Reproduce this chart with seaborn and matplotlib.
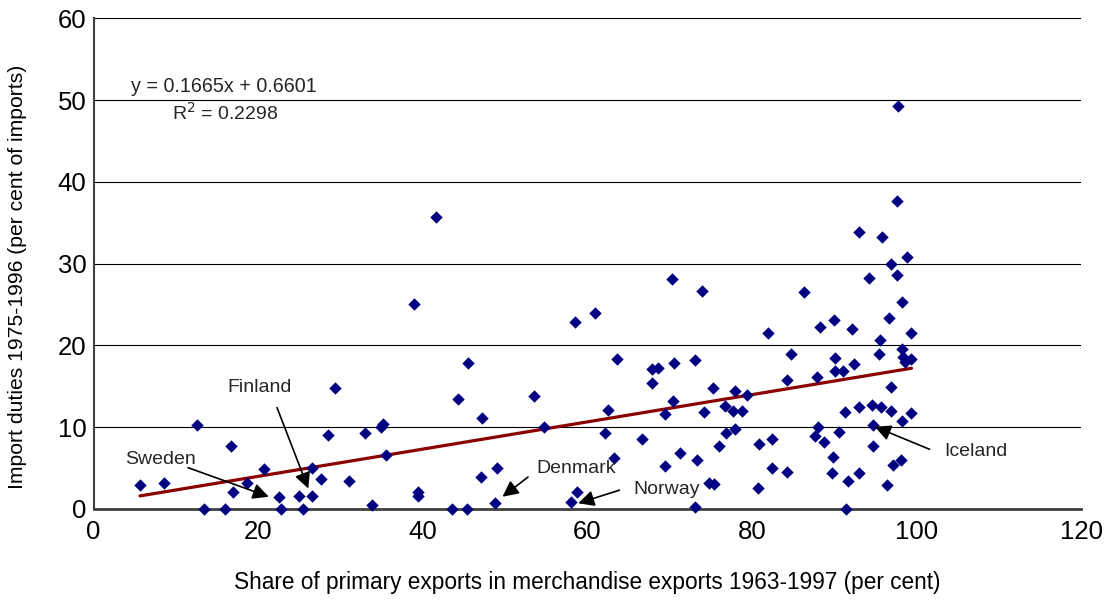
import matplotlib
matplotlib.use("Agg")
import matplotlib.pyplot as plt
import seaborn as sns
import numpy as np
import pandas as pd

# ---- data ----
x_share = [5.65, 8.57, 12.6, 13.4, 16.0, 16.67, 16.9, 18.6, 20.7, 22.5, 22.8, 24.97, 25.5,
           26.5, 26.5, 27.6, 28.5, 29.4, 31.0, 33.0, 33.8, 34.9, 35.2, 35.5, 38.9, 39.4, 39.4,
           41.6, 43.6, 44.25, 45.4, 45.5, 47.1, 47.2, 48.8, 49.0, 53.5, 54.8, 58.0, 58.5, 58.7,
           60.9, 62.1, 62.5, 63.2, 63.6, 66.6,
           67.9, 68.6, 67.9, 69.4, 69.4, 70.3, 70.6, 70.4, 71.3, 73.1, 73.1, 73.3, 73.9, 74.2,
           74.8, 75.4, 75.3, 76.0, 76.7, 76.9, 77.7, 77.9, 77.9, 78.8, 79.4, 80.7, 80.9, 82.0,
           82.5, 82.5, 84.3, 84.3, 84.7, 86.3, 87.7, 87.9, 88.1, 88.3, 88.8, 89.7, 89.9, 90.0,
           90.1, 90.1, 90.6, 91.1, 91.3, 91.5, 91.7, 92.2, 92.4, 93.05, 93.05, 93.05, 94.2,
           94.6, 94.7, 94.75, 95.4, 95.6, 95.7, 95.8, 96.45, 96.7, 96.9, 96.9, 96.9, 97.2,
           97.6, 97.6, 97.8, 98.1, 98.2, 98.2, 98.2, 98.4, 98.6, 98.9, 99.4, 99.4, 99.4]
y_duties = [2.93, 3.2, 10.25, 0.0, 0.0, 7.7, 2.1, 3.2, 4.9, 1.5, 0.0, 1.63, 0.0,
            1.63, 5.0, 3.65, 9.05, 14.75, 3.45, 9.33, 0.55, 10.05, 10.35, 6.6, 25.1, 2.1, 1.6,
            35.7, 0.0, 13.4, 0.0, 17.9, 3.95, 11.1, 0.77, 5.05, 13.85, 10.0, 0.9, 22.9, 2.1,
            24.0, 9.3, 12.1, 6.2, 18.4, 8.6,
            17.1, 17.25, 15.4, 11.6, 5.26, 28.1, 17.9, 13.2, 6.9, 18.2, 0.3, 6.0, 26.7, 11.8,
            3.2, 3.0, 14.8, 7.7, 12.6, 9.3, 12.0, 9.8, 14.4, 12.0, 13.9, 2.6, 8.0, 21.5,
            8.6, 5.0, 15.8, 4.56, 19.0, 26.5, 8.9, 16.1, 10.06, 22.2, 8.2, 4.36, 6.3, 23.1,
            18.5, 16.9, 9.4, 16.9, 11.8, 0.0, 3.46, 22.0, 17.7, 4.36, 12.5, 33.9, 28.3,
            12.7, 7.7, 10.3, 19.0, 20.7, 12.5, 33.3, 2.93, 23.3, 29.95, 14.9, 12.0, 5.4,
            28.6, 37.6, 49.3, 6.0, 25.35, 19.6, 10.7, 18.6, 18.0, 30.8, 21.55, 18.4, 11.7]

slope = 0.1665
intercept = 0.6601
r_squared = 0.2298

x_ticks = [0, 20, 40, 60, 80, 100, 120]
y_ticks = [0, 10, 20, 30, 40, 50, 60]

x_title = "Share of primary exports in merchandise exports 1963-1997 (per cent)"
y_title = "Import duties 1975-1996 (per cent of imports)"

# country labels: (name, text position, arrow tail, arrow tip)
countries = ["Sweden", "Finland", "Denmark", "Norway", "Iceland"]
label_pos = [(8.2, 6.0), (20.2, 14.8), (58.6, 5.0), (69.7, 2.4), (107.2, 7.0)]
arrow_tail = [(11.5, 5.05), (22.3, 12.4), (52.8, 3.9), (63.9, 2.3), (101.6, 7.3)]
arrow_tip = [(21.3, 1.5), (26.1, 2.5), (49.7, 1.5), (58.9, 0.7), (94.95, 10.06)]

df = pd.DataFrame({"share": x_share, "duties": y_duties})
line_x = [min(x_share), max(x_share)]
line_df = pd.DataFrame({"x": line_x, "y": [slope * v + intercept for v in line_x]})

# ---- styling ----
sns.set_theme(style="white")
plt.rcParams["font.family"] = ["Liberation Sans", "DejaVu Sans"]

W, H = 1110, 604
fig = plt.figure(figsize=(W / 100, H / 100), dpi=100)
left, right, top, bottom = 93.5, 1081, 18.3, 509
ax = fig.add_axes([left / W, (H - bottom) / H, (right - left) / W, (bottom - top) / H])

sns.lineplot(data=line_df, x="x", y="y", color="#8B0000", linewidth=2.3, ax=ax, zorder=2)
sns.scatterplot(data=df, x="share", y="duties", marker="D", s=40, color="#000080",
                linewidth=0, ax=ax, zorder=3, clip_on=False)

ax.set_xlim(0, 120)
ax.set_ylim(0, 60)
ax.set_xticks(x_ticks)
ax.set_yticks(y_ticks)
ax.yaxis.grid(True, color="black", linewidth=0.8)
ax.xaxis.grid(False)
ax.set_axisbelow(True)

for s in ["top", "right"]:
    ax.spines[s].set_visible(False)
ax.spines["left"].set_color("#404040")
ax.spines["left"].set_linewidth(1.5)
ax.spines["bottom"].set_color("#404040")
ax.spines["bottom"].set_linewidth(2.0)
ax.tick_params(axis="both", direction="out", width=1.2, color="#404040",
               labelsize=18.5, labelcolor="black")
ax.tick_params(axis="y", length=3, pad=2)
ax.tick_params(axis="x", length=6, pad=2)

ax.set_xlabel(x_title, fontsize=16.3, color="black", va="center")
ax.set_ylabel(y_title, fontsize=15.2, color="black", va="center")
ax.xaxis.set_label_coords(0.5, -0.149)
ax.yaxis.set_label_coords(-0.0765, 0.473)

ax.text(15.9, 51.7, f"y = {slope}x + {intercept}", fontsize=14.2, ha="center", va="center")
ax.text(16.0, 48.4, f"R$^2$ = {r_squared}", fontsize=14, ha="center", va="center")

for name, pos, tail, tip in zip(countries, label_pos, arrow_tail, arrow_tip):
    ax.text(pos[0], pos[1], name, fontsize=14, ha="center", va="center", zorder=5)
    ax.annotate("", xy=tip, xytext=tail,
                arrowprops=dict(arrowstyle="-|>", mutation_scale=24, color="black",
                                lw=1.2, shrinkA=0, shrinkB=0), zorder=5,
                annotation_clip=False)

fig.savefig("out.png", dpi=100)
